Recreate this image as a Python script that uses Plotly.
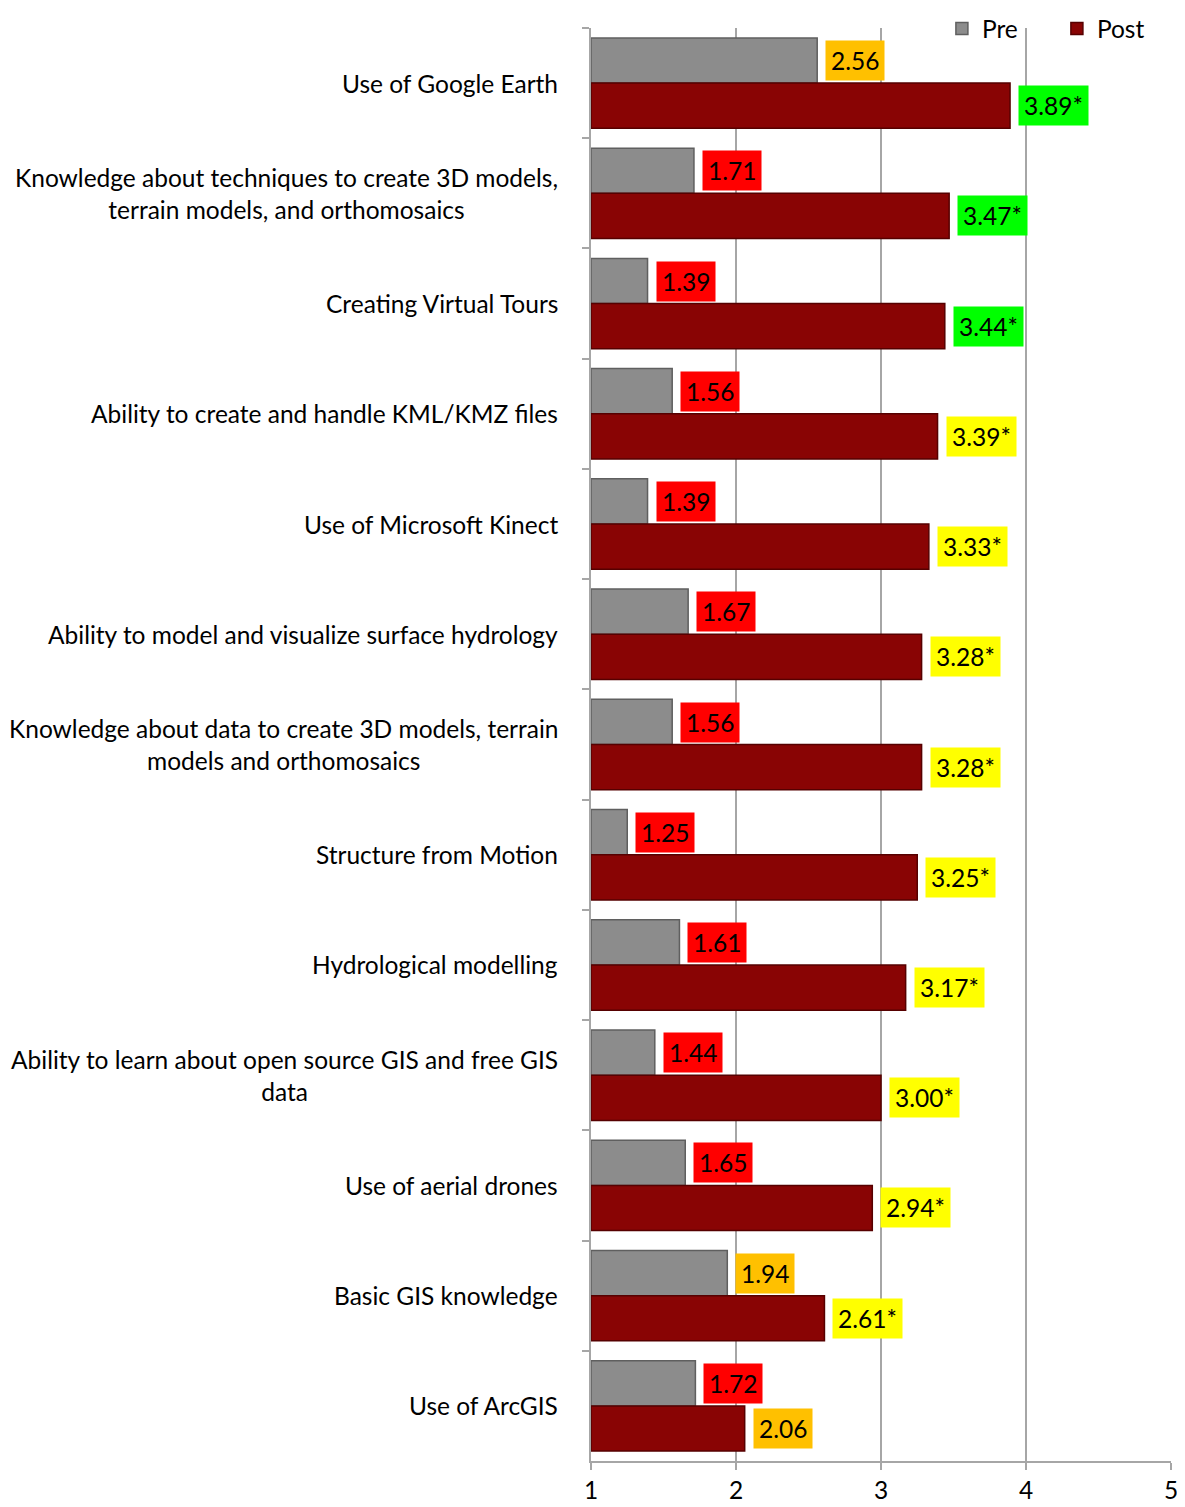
import plotly.graph_objects as go

categories = [
    "Use of Google Earth",
    "Knowledge about techniques to create 3D models,<br>terrain models, and orthomosaics",
    "Creating Virtual Tours",
    "Ability to create and handle KML/KMZ files",
    "Use of Microsoft Kinect",
    "Ability to model and visualize surface hydrology",
    "Knowledge about data to create 3D models, terrain<br>models and orthomosaics",
    "Structure from Motion",
    "Hydrological modelling",
    "Ability to learn about open source GIS and free GIS<br>data",
    "Use of aerial drones",
    "Basic GIS knowledge",
    "Use of ArcGIS",
]
pre_values = [2.56, 1.71, 1.39, 1.56, 1.39, 1.67, 1.56, 1.25, 1.61, 1.44, 1.65, 1.94, 1.72]
post_values = [3.89, 3.47, 3.44, 3.39, 3.33, 3.28, 3.28, 3.25, 3.17, 3.00, 2.94, 2.61, 2.06]
post_significant = [True] * 12 + [False]
pre_label_colors = ["#FFC000"] + ["#FF0000"] * 10 + ["#FFC000", "#FF0000"]
post_label_colors = ["#00FF00"] * 3 + ["#FFFF00"] * 9 + ["#FFC000"]
x_ticks = [1, 2, 3, 4, 5]

FONT = "Lato"
FS = 24.5
BASE = 1

fig = go.Figure()
fig.add_trace(go.Bar(
    name="Pre", y=categories, x=[v - BASE for v in pre_values], base=BASE,
    orientation="h",
    marker=dict(color="#8C8C8C", line=dict(color="#5F5F5F", width=1.5)),
))
fig.add_trace(go.Bar(
    name="Post", y=categories, x=[v - BASE for v in post_values], base=BASE,
    orientation="h",
    marker=dict(color="#890404", line=dict(color="#560000", width=1.5)),
))

annotations = []
for i, cat in enumerate(categories):
    annotations.append(dict(
        x=pre_values[i], y=cat, xref="x", yref="y", xanchor="left",
        xshift=8, yshift=22.5, text=f"{pre_values[i]:.2f}", showarrow=False,
        bgcolor=pre_label_colors[i], borderpad=5,
        font=dict(family=FONT, size=FS, color="black"),
    ))
    annotations.append(dict(
        x=post_values[i], y=cat, xref="x", yref="y", xanchor="left",
        xshift=8, yshift=-22.5,
        text=f"{post_values[i]:.2f}" + ("*" if post_significant[i] else ""),
        showarrow=False, bgcolor=post_label_colors[i], borderpad=5,
        font=dict(family=FONT, size=FS, color="black"),
    ))
    annotations.append(dict(
        x=0, xref="paper", y=cat, yref="y", xanchor="right", xshift=-31,
        text=cat, showarrow=False, align="center",
        font=dict(family=FONT, size=FS, color="black"),
    ))

fig.update_layout(
    width=1177, height=1499,
    margin=dict(l=583, r=14, t=20, b=46, autoexpand=False),
    paper_bgcolor="white", plot_bgcolor="white",
    barmode="group", bargap=0.18, bargroupgap=0.0,
    font=dict(family=FONT, size=FS, color="black"),
    annotations=annotations,
    showlegend=True,
    legend=dict(orientation="h", x=0.605, y=1.0153, xanchor="left", yanchor="top",
                font=dict(family=FONT, size=FS), entrywidth=70, traceorder="normal",
                bgcolor="rgba(0,0,0,0)", itemwidth=30),
    xaxis=dict(range=[1, 5], tickvals=x_ticks, showgrid=True, gridcolor="#A6A6A6",
               gridwidth=2, showline=True, linecolor="#A6A6A6", linewidth=2,
               ticks="outside", ticklen=7, tickcolor="#A6A6A6", tickwidth=2,
               zeroline=False, tickfont=dict(family=FONT, size=FS), fixedrange=True),
    yaxis=dict(autorange="reversed", showticklabels=False, showline=True,
               linecolor="#A6A6A6", linewidth=2, ticks="outside", ticklen=7,
               tickcolor="#A6A6A6", tickwidth=2, tickson="boundaries",
               showgrid=False, fixedrange=True),
)

fig.write_html("out.html")
